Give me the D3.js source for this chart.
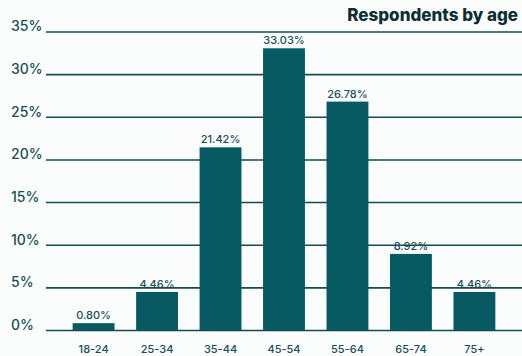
<!DOCTYPE html>
<html>
<head>
<meta charset="utf-8">
<script src="https://cdn.jsdelivr.net/npm/d3@7"></script>
<style>
  html, body { margin: 0; padding: 0; background: #fbfdfd; }
  svg { display: block; }
</style>
</head>
<body>
<svg id="chart" width="522" height="356"></svg>
<script>
// Share of respondents in each age band
const categories = ["18-24", "25-34", "35-44", "45-54", "55-64", "65-74", "75+"];
const shares = [0.80, 4.46, 21.42, 33.03, 26.78, 8.92, 4.46];
const yTicks = [0, 5, 10, 15, 20, 25, 30, 35];
const title = "Respondents by age";

const plotLeft = 46, plotRight = 522, plotTop = 31.5, plotBottom = 330;
const teal = "#085a62";
const ink = "#174f57";
const labelFont = "Inter, 'DejaVu Sans', sans-serif";

const svg = d3.select("#chart");

const x = d3.scaleBand()
  .domain(categories)
  .range([plotLeft, plotRight])
  .paddingInner(0.34)
  .paddingOuter(0.42);

const y = d3.scaleLinear()
  .domain([0, 35])
  .range([plotBottom, plotTop]);

// horizontal gridlines with percentage labels
const yAxis = d3.axisLeft(y)
  .tickValues(yTicks)
  .tickFormat(d => d + "%")
  .tickSize(-(plotRight - plotLeft))
  .tickPadding(8);

const gy = svg.append("g")
  .attr("transform", `translate(${plotLeft},0)`)
  .call(yAxis);
gy.select(".domain").remove();
gy.selectAll(".tick line")
  .attr("stroke", "#174a50")
  .attr("stroke-width", 1.6);
gy.selectAll(".tick text")
  .attr("x", -35)
  .attr("text-anchor", "start")
  .attr("dy", "-0.05em")
  .attr("fill", ink)
  .style("font-family", labelFont)
  .style("font-weight", "500")
  .style("font-size", "14px");

// bars
svg.append("g")
  .selectAll("rect")
  .data(categories)
  .join("rect")
  .attr("x", d => x(d))
  .attr("width", x.bandwidth())
  .attr("y", (d, i) => y(shares[i]))
  .attr("height", (d, i) => y(0) - y(shares[i]))
  .attr("fill", teal);

// value labels above bars
svg.append("g")
  .selectAll("text")
  .data(categories)
  .join("text")
  .attr("x", d => x(d) + x.bandwidth() / 2)
  .attr("y", (d, i) => y(shares[i]) - 4)
  .attr("text-anchor", "middle")
  .attr("fill", ink)
  .style("font-family", labelFont)
  .style("font-weight", "500")
  .style("font-size", "11px")
  .text((d, i) => shares[i].toFixed(2) + "%");

// category labels
const xAxis = d3.axisBottom(x).tickSize(0).tickPadding(15);
const gx = svg.append("g")
  .attr("transform", `translate(0,${plotBottom})`)
  .call(xAxis);
gx.select(".domain").remove();
gx.selectAll(".tick text")
  .attr("fill", ink)
  .style("font-family", labelFont)
  .style("font-weight", "500")
  .style("font-size", "11px");

// title
svg.append("text")
  .attr("x", 518)
  .attr("y", 21)
  .attr("text-anchor", "end")
  .attr("fill", "#0e2e33")
  .style("font-family", labelFont)
  .style("font-weight", "800")
  .style("font-size", "17px")
  .text(title);
</script>
</body>
</html>
